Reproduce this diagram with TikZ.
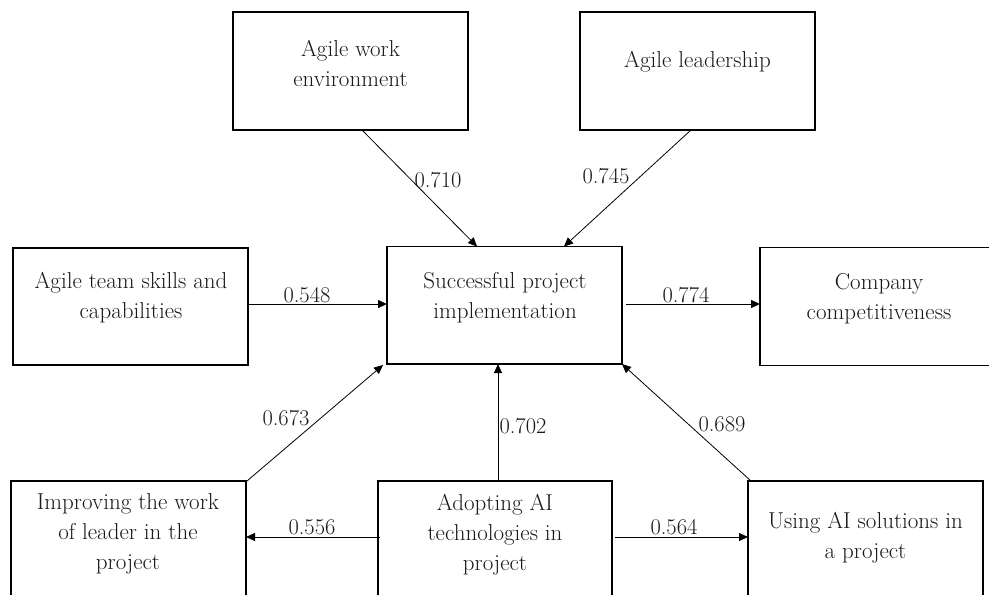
\documentclass[tikz,border=0pt]{standalone}
\usetikzlibrary{arrows.meta}
\begin{document}
\begin{tikzpicture}[x=1pt,y=-1pt,
  box/.style={draw, line width=1.6pt, minimum width=235pt, minimum height=118pt, inner sep=0pt, outer sep=0pt},
  txt/.style={align=center, font=\fontsize{23}{30}\selectfont, text=black!90, inner sep=0pt},
  lbl/.style={font=\fontsize{22.5}{24}\selectfont, inner sep=0pt, text=black!90},
  arr/.style={-{Triangle[length=9pt,width=8pt]}, line width=0.8pt}]
\useasboundingbox (0,0) rectangle (989,595);
\clip (0,0) rectangle (989,595);
% boxes
\node[box] (awe) at (350.5,71) {};
\node[box] (al) at (697.5,71) {};
\node[box, minimum height=117pt] (ats) at (130.5,306.5) {};
\node[box, minimum height=117.5pt] (spi) at (504.5,305.25) {};
\node[box] (cc) at (877.5,306.5) {};
\node[box] (ilp) at (128.5,540) {};
\node[box, minimum width=234pt] (aai) at (495,540) {};
\node[box] (uai) at (865.5,540) {};
% texts
\node[txt] (awet) at (350.5,63) {Agile work\\environment};
\node[txt] (alt) at (697.5,62) {Agile leadership};
\node[txt] (atst) at (131,298) {Agile team skills and\\capabilities};
\node[txt] (spit) at (505,298) {Successful project\\implementation};
\node[txt] (cct) at (879,299) {Company\\competitiveness};
\node[txt] (ilpt) at (128,534) {Improving the work\\of leader in the\\project};
\node[txt] (aait) at (495,535) {Adopting AI\\technologies in\\project};
\node[txt] (uait) at (865.5,538) {Using AI solutions in\\a project};
% connectors
\draw[arr] ([xshift=11.5pt]awe.south) -- ([xshift=-27.5pt]spi.north);
\draw[arr] ([xshift=-6.5pt]al.south) -- ([xshift=59.5pt]spi.north);
\draw[arr] ([yshift=2.5pt]ats.east) -- ([yshift=1.25pt]spi.west);
\draw[arr] ([xshift=4pt,yshift=1.25pt]spi.east) -- ([yshift=2.5pt]cc.west);
\draw[arr] ([xshift=1pt]ilp.north east) -- ([xshift=-4pt,yshift=-1pt]spi.south west);
\draw[arr] ([xshift=3pt]aai.north) -- ([xshift=-6.5pt]spi.south);
\draw[arr] ([xshift=3pt]uai.north west) -- (spi.south east);
\draw[arr] ([xshift=2pt,yshift=3pt]aai.west) -- ([yshift=3pt]ilp.east);
\draw[arr] ([xshift=3pt,yshift=3pt]aai.east) -- ([yshift=3pt]uai.west);
% labels
\node[lbl] (l1) at (438,180) {0.710};
\node[lbl] (l2) at (606,176) {0.745};
\node[lbl] (l3) at (307,295) {0.548};
\node[lbl] (l4) at (686,295) {0.774};
\node[lbl] (l5) at (286,418) {0.673};
\node[lbl] (l6) at (523,426) {0.702};
\node[lbl] (l7) at (722,424) {0.689};
\node[lbl] (l8) at (312,527) {0.556};
\node[lbl] (l9) at (674,527) {0.564};
\end{tikzpicture}
\end{document}
